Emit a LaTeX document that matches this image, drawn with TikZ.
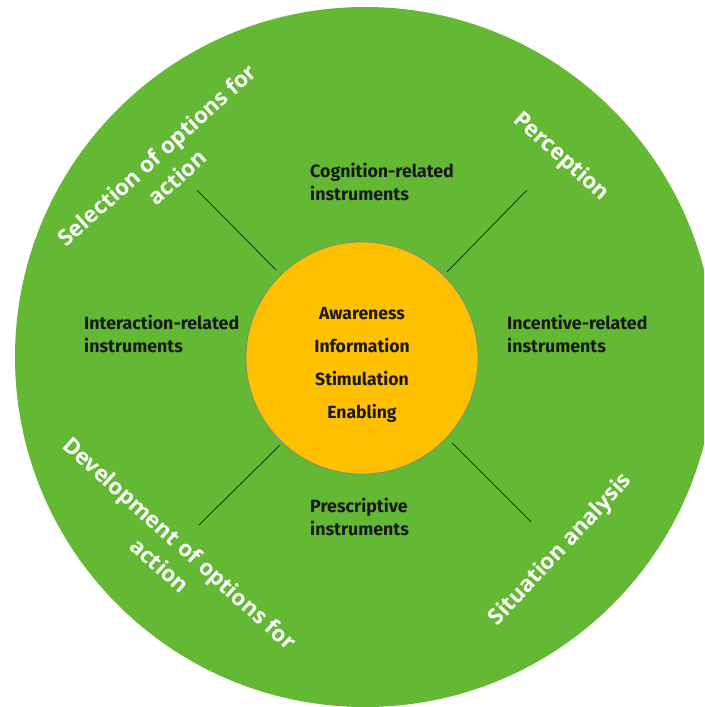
\documentclass[tikz,border=0pt]{standalone}
\usepackage{fontspec}
\setmainfont{Fira Sans}
\newfontfamily\ringfont{Open Sans}
\usepackage{xcolor}
\usetikzlibrary{positioning}
\definecolor{wheelgreen}{RGB}{99,185,52}
\definecolor{coreyellow}{RGB}{255,192,0}
\definecolor{coreedge}{RGB}{112,132,150}

\begin{document}
\begin{tikzpicture}[x=0.03cm, y=-0.03cm,
    instr/.style={font=\fontsize{15.2}{19.6}\selectfont\bfseries, align=left, anchor=west, inner sep=0pt, text=black!90},
    ring/.style={font=\ringfont\fontsize{19}{25.6}\selectfont\bfseries, text=white, align=center, inner sep=0pt},
    spoke/.style={draw=black!85!green, line width=0.6pt}]
		\clip (0,0) rectangle (704,707);

		% Outer wheel
		\fill[wheelgreen] (365,357) circle (350);

		% Core circle
		\node (core) at (362,358) [circle, fill=coreyellow, draw=coreedge, line width=0.5pt, minimum size=6.96cm] {};
		\node (tasks) at (362,365) [align=center, inner sep=0pt, text=black!90,
			font=\fontsize{15}{28.2}\selectfont\bfseries] {Awareness\\Information\\Stimulation\\Enabling};

		% Spokes
		\coordinate (tl in) at (276,270); \coordinate (tl out) at (197,190);
		\coordinate (tr in) at (447,272); \coordinate (tr out) at (527,190);
		\coordinate (bl in) at (280,445); \coordinate (bl out) at (199,525);
		\coordinate (br in) at (452,443); \coordinate (br out) at (531,522);
		\draw[spoke] (tl in) -- (tl out); \draw[spoke] (tr in) -- (tr out);
		\draw[spoke] (bl in) -- (bl out); \draw[spoke] (br in) -- (br out);

		% Instruments
		\node (cog) at (310,182) [instr] {Cognition-related\\instruments};
		\node (inc) at (507,334) [instr] {Incentive-related\\instruments};
		\node (int) at (84,334) [instr] {Interaction-related\\instruments};
		\node (pre) at (310,517) [instr] {Prescriptive\\instruments};

		% Phases round the ring
		\node (sel) at (167,166) [ring, rotate=42] {Selection of options for\\action};
		\node (per) at (561,157) [ring, rotate=-42] {Perception};
		\node (dev) at (170,554) [ring, rotate=-42] {Development of options for\\action};
		\node (sit) at (561,550) [ring, rotate=47] {Situation analysis};
	\end{tikzpicture}
\end{document}
